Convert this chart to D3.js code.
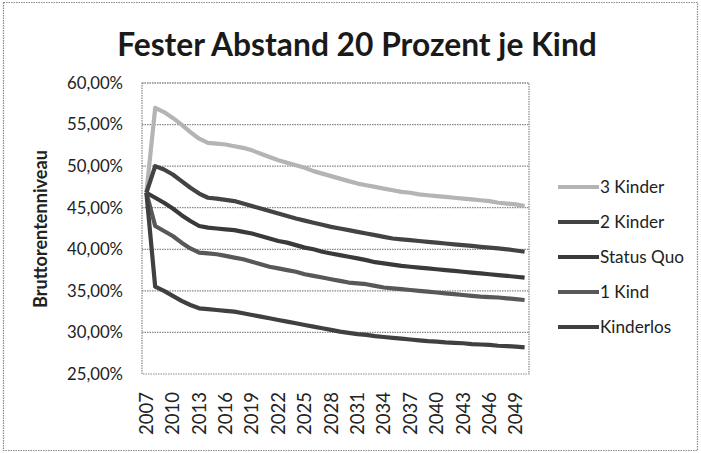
<!DOCTYPE html>
<html>
<head>
<meta charset="utf-8">
<script src="https://cdn.jsdelivr.net/npm/d3@7"></script>
<style>
  html, body { margin: 0; padding: 0; background: #fff; }
  svg { display: block; font-family: Lato, "Open Sans", sans-serif; }
</style>
</head>
<body>
<svg id="chart" width="701" height="453"></svg>
<script>
// Years 2007–2050 (one category per year)
const years = d3.range(2007, 2051);
const tickYears = d3.range(2007, 2050, 3);
const yTicks = [25, 30, 35, 40, 45, 50, 55, 60];

// Bruttorentenniveau in percent per scenario
const dreiKinder = [46.8, 57.0, 56.5, 55.8, 55.0, 54.1, 53.3, 52.8, 52.7, 52.6, 52.4, 52.2, 51.9, 51.5,
  51.1, 50.7, 50.4, 50.1, 49.8, 49.4, 49.1, 48.8, 48.5, 48.2, 47.9, 47.7, 47.5, 47.3, 47.1, 46.9,
  46.8, 46.6, 46.5, 46.4, 46.3, 46.2, 46.1, 46.0, 45.9, 45.8, 45.6, 45.5, 45.4, 45.2];
const zweiKinder = [46.8, 50.0, 49.6, 49.0, 48.2, 47.4, 46.7, 46.2, 46.1, 45.95, 45.8, 45.5, 45.2, 44.9,
  44.6, 44.3, 44.0, 43.7, 43.45, 43.2, 42.95, 42.7, 42.5, 42.3, 42.1, 41.9, 41.7, 41.5, 41.3, 41.2,
  41.1, 41.0, 40.9, 40.8, 40.7, 40.6, 40.5, 40.4, 40.3, 40.2, 40.1, 40.0, 39.85, 39.7];
const statusQuo = [46.8, 46.2, 45.6, 44.9, 44.1, 43.4, 42.8, 42.6, 42.5, 42.4, 42.3, 42.1, 41.9, 41.6,
  41.3, 41.0, 40.8, 40.5, 40.2, 40.0, 39.7, 39.5, 39.3, 39.1, 38.9, 38.7, 38.45, 38.3, 38.15, 38.0,
  37.9, 37.8, 37.7, 37.6, 37.5, 37.4, 37.3, 37.2, 37.1, 37.0, 36.9, 36.8, 36.7, 36.6];
const einKind = [46.8, 42.8, 42.2, 41.6, 40.8, 40.1, 39.6, 39.5, 39.4, 39.2, 39.0, 38.8, 38.5, 38.2,
  37.9, 37.7, 37.5, 37.3, 37.0, 36.8, 36.6, 36.4, 36.2, 36.0, 35.9, 35.8, 35.6, 35.4, 35.3, 35.2,
  35.1, 35.0, 34.9, 34.8, 34.7, 34.6, 34.5, 34.4, 34.3, 34.25, 34.2, 34.1, 34.0, 33.9];
const kinderlos = [46.8, 35.5, 35.0, 34.4, 33.8, 33.3, 32.9, 32.8, 32.7, 32.6, 32.5, 32.3, 32.1, 31.9,
  31.7, 31.5, 31.3, 31.1, 30.9, 30.7, 30.5, 30.3, 30.1, 29.95, 29.8, 29.7, 29.55, 29.45, 29.35, 29.25,
  29.15, 29.05, 28.95, 28.9, 28.8, 28.75, 28.7, 28.6, 28.55, 28.5, 28.4, 28.35, 28.3, 28.2];

const seriesNames = ["3 Kinder", "2 Kinder", "Status Quo", "1 Kind", "Kinderlos"];
const seriesValues = [dreiKinder, zweiKinder, statusQuo, einKind, kinderlos];
const seriesColors = ["#b4b4b4", "#434343", "#3a3a3a", "#585858", "#404040"];

const svg = d3.select("#chart");
const W = 701, H = 453;
const plot = { left: 142, top: 83, right: 529, bottom: 374 };
const FONT = "Lato, 'Open Sans', sans-serif";

// Font size that makes a sample string span the given width
function fitSize(sample, width, weight) {
  const t = svg.append("text").attr("font-size", 20).attr("font-weight", weight || "normal")
    .attr("font-family", FONT).text(sample);
  const w = t.node().getComputedTextLength();
  t.remove();
  return 20 * width / w;
}
const tickSize = fitSize("60,00%", 56);
const yearSize = fitSize("2007", 43);
const legendSize = fitSize("Status Quo", 84);
const axisTitleSize = fitSize("Bruttorentenniveau", 158, "bold");
const titleSize = fitSize("Fester Abstand 20 Prozent je Kind", 480, "bold");

// Outer chart frame
svg.append("rect")
  .attr("x", 3.5).attr("y", 2.5).attr("width", W - 7).attr("height", H - 5)
  .attr("fill", "none").attr("stroke", "#8a8a8a").attr("stroke-width", 1.2)
  .attr("stroke-dasharray", "1.5,1");

// Title
svg.append("text")
  .attr("x", 357).attr("y", 56)
  .attr("text-anchor", "middle")
  .attr("font-weight", "bold").attr("font-size", titleSize)
  .attr("fill", "#1a1a1a")
  .text("Fester Abstand 20 Prozent je Kind");

// Scales
const x = d3.scaleBand().domain(years).range([plot.left, plot.right]);
const y = d3.scaleLinear().domain([25, 60]).range([plot.bottom, plot.top]);
const xc = d => x(d) + x.bandwidth() / 2;

// Horizontal gridlines
svg.append("g").selectAll("line").data(yTicks.filter(t => t > 25)).join("line")
  .attr("x1", plot.left).attr("x2", plot.right)
  .attr("y1", d => y(d)).attr("y2", d => y(d))
  .attr("stroke", "#888").attr("stroke-width", 1.2).attr("stroke-dasharray", "1.5,1");

// Plot area border
svg.append("rect")
  .attr("x", plot.left).attr("y", plot.top)
  .attr("width", plot.right - plot.left).attr("height", plot.bottom - plot.top)
  .attr("fill", "none").attr("stroke", "#888").attr("stroke-width", 1.2)
  .attr("stroke-dasharray", "1.5,1");

// Y axis (labels only)
const fmtPct = v => d3.format(".2f")(v).replace(".", ",") + "%";
const yAxis = d3.axisLeft(y).tickValues(yTicks).tickFormat(fmtPct).tickSize(0).tickPadding(19);
const gy = svg.append("g").attr("transform", `translate(${plot.left},0)`).call(yAxis);
gy.select(".domain").remove();
gy.selectAll("text").attr("font-size", tickSize).attr("fill", "#222")
  .attr("font-family", FONT);

// X axis (rotated year labels)
const xAxis = d3.axisBottom(x).tickValues(tickYears).tickSize(0).tickPadding(0);
const gx = svg.append("g").attr("transform", `translate(0,${plot.bottom})`).call(xAxis);
gx.select(".domain").remove();
gx.selectAll("text")
  .attr("font-size", yearSize).attr("fill", "#222")
  .attr("font-family", FONT)
  .attr("text-anchor", "end")
  .attr("dy", "0.35em")
  .attr("transform", "translate(0,18) rotate(-90)")
  .attr("x", 0).attr("y", 0);

// Y axis title
svg.append("text")
  .attr("transform", "translate(47,229) rotate(-90)")
  .attr("text-anchor", "middle")
  .attr("font-weight", "bold").attr("font-size", axisTitleSize).attr("fill", "#222")
  .text("Bruttorentenniveau");

// Series lines
const line = d3.line().x((d, i) => xc(years[i])).y(d => y(d)).curve(d3.curveLinear);
svg.append("g").selectAll("path").data(seriesValues).join("path")
  .attr("d", d => line(d))
  .attr("fill", "none")
  .attr("stroke", (d, i) => seriesColors[i])
  .attr("stroke-width", 4.2)
  .attr("stroke-linejoin", "round");

// Legend
const lg = svg.append("g").selectAll("g").data(seriesNames).join("g")
  .attr("transform", (d, i) => `translate(558,${187 + i * 35})`);
lg.append("line").attr("x1", 0).attr("x2", 41).attr("y1", 0).attr("y2", 0)
  .attr("stroke", (d, i) => seriesColors[i]).attr("stroke-width", 4.2);
lg.append("text").attr("x", 42).attr("y", 0).attr("dy", "0.35em")
  .attr("font-size", legendSize).attr("fill", "#222").text(d => d);
</script>
</body>
</html>
